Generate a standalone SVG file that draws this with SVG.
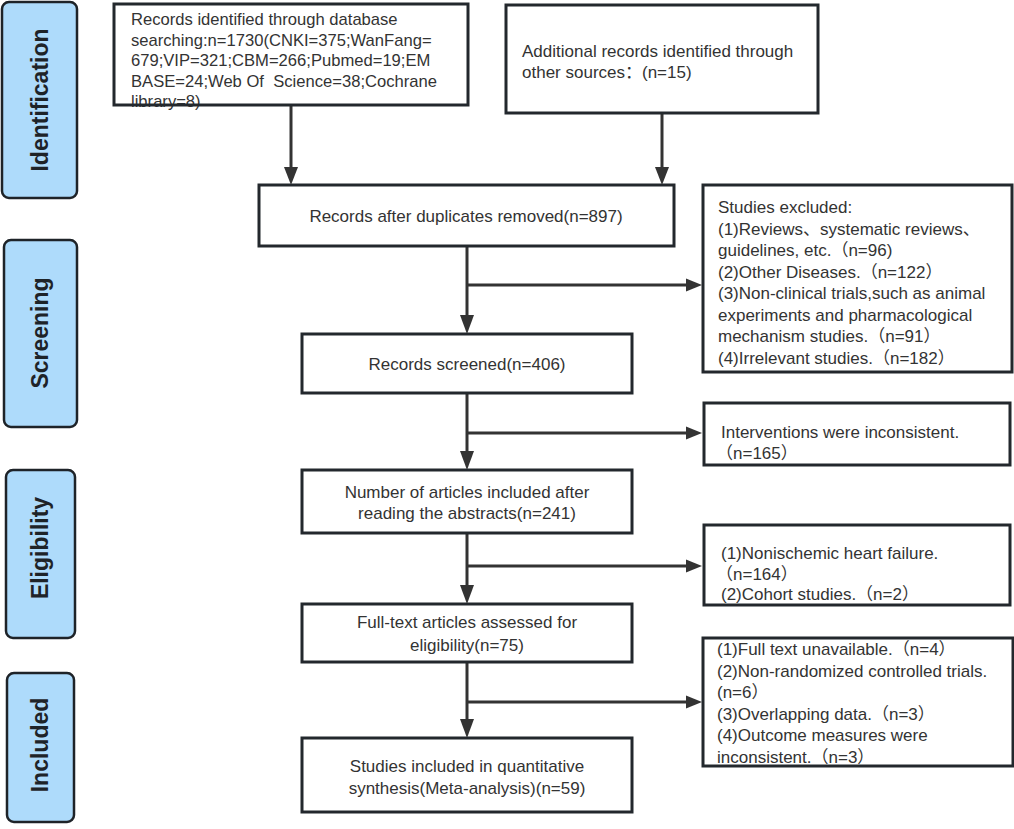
<svg xmlns="http://www.w3.org/2000/svg" width="1014" height="829" viewBox="0 0 1014 829">
<style>
  .stage rect { fill:#aedbfb; stroke:#1e2328; stroke-width:2.5; }
  .stage text { font-family:"Liberation Sans",Arial,sans-serif; font-weight:bold; font-size:23px; fill:#1e2328; text-anchor:middle; }
  .box { fill:#ffffff; stroke:#23282d; stroke-width:3; }
  .open { fill:none; }
  .t { font-family:"Liberation Sans",Arial,"Noto Sans CJK SC",sans-serif; font-size:17px; fill:#333333; }
  .s { font-size:16.6px; }
  .c { text-anchor:middle; }
  .conn line { stroke:#333333; stroke-width:3; }
  .ah { fill:#333333; }
</style>
<rect width="1014" height="829" fill="#ffffff"/>

<g id="stage-identification" class="stage">
  <rect x="2" y="2" width="75" height="196" rx="7"/>
  <text transform="translate(48,100) rotate(-90)">Identification</text>
</g>
<g id="stage-screening" class="stage">
  <rect x="4" y="240" width="73" height="187" rx="7"/>
  <text transform="translate(48,333) rotate(-90)">Screening</text>
</g>
<g id="stage-eligibility" class="stage">
  <rect x="6" y="470" width="69" height="168" rx="7"/>
  <text transform="translate(48,548) rotate(-90)">Eligibility</text>
</g>
<g id="stage-included" class="stage">
  <rect x="7" y="673" width="67" height="149" rx="7"/>
  <text transform="translate(48,745) rotate(-90)">Included</text>
</g>

<g id="connectors" class="conn">
  <line x1="291" y1="105" x2="291" y2="170"/>
  <polygon class="ah" points="284,167 298,167 291,185"/>
  <line x1="662" y1="113" x2="662" y2="170"/>
  <polygon class="ah" points="655,167 669,167 662,185"/>

  <line x1="467" y1="246" x2="467" y2="318"/>
  <polygon class="ah" points="460,315 474,315 467,334"/>
  <line x1="467" y1="285" x2="688" y2="285"/>
  <polygon class="ah" points="686,278.5 686,291.5 702,285"/>

  <line x1="467" y1="393" x2="467" y2="454"/>
  <polygon class="ah" points="460,451 474,451 467,470"/>
  <line x1="467" y1="433" x2="688" y2="433"/>
  <polygon class="ah" points="686,426.5 686,439.5 702,433"/>

  <line x1="467" y1="533" x2="467" y2="588"/>
  <polygon class="ah" points="460,585 474,585 467,604"/>
  <line x1="467" y1="566" x2="688" y2="566"/>
  <polygon class="ah" points="686,559.5 686,572.5 702,566"/>

  <line x1="467" y1="662" x2="467" y2="722"/>
  <polygon class="ah" points="460,719 474,719 467,738"/>
  <line x1="467" y1="702" x2="688" y2="702"/>
  <polygon class="ah" points="686,695.5 686,708.5 702,702"/>
</g>

<g id="node-records-db">
  <rect x="114" y="4" width="354" height="101" fill="#ffffff"/>
  <text class="t s" x="131" y="25">Records identified through database</text>
  <text class="t s" x="131" y="45.5">searching:n=1730(CNKI=375;WanFang=</text>
  <text class="t s" x="131" y="66">679;VIP=321;CBM=266;Pubmed=19;EM</text>
  <text class="t s" x="131" y="86.5" xml:space="preserve">BASE=24;Web Of  Science=38;Cochrane</text>
  <text class="t s" x="131" y="107">library=8)</text>
  <rect class="box open" x="114" y="4" width="354" height="101"/>
</g>

<g id="node-records-other">
  <rect class="box" x="506" y="5" width="312" height="108"/>
  <text class="t" x="522" y="57">Additional records identified through</text>
  <text class="t" x="522" y="78">other sources：(n=15)</text>
</g>

<g id="node-after-duplicates">
  <rect class="box" x="259" y="185" width="415" height="61"/>
  <text class="t c" x="466" y="222">Records after duplicates removed(n=897)</text>
</g>

<g id="node-excluded-1">
  <rect class="box" x="703" y="185" width="309" height="187"/>
  <text class="t" x="718" y="213">Studies excluded:</text>
  <text class="t" x="718" y="234.5">(1)Reviews、systematic reviews、</text>
  <text class="t" x="718" y="256">guidelines, etc.（n=96)</text>
  <text class="t" x="718" y="277.5">(2)Other Diseases.（n=122）</text>
  <text class="t" x="718" y="299">(3)Non-clinical trials,such as animal</text>
  <text class="t" x="718" y="320.5">experiments and pharmacological</text>
  <text class="t" x="718" y="342">mechanism studies.（n=91）</text>
  <text class="t" x="718" y="363.5">(4)Irrelevant studies.（n=182）</text>
</g>

<g id="node-screened">
  <rect class="box" x="302" y="334" width="330" height="59"/>
  <text class="t c" x="467" y="370">Records screened(n=406)</text>
</g>

<g id="node-excluded-2">
  <rect class="box" x="704" y="403" width="306" height="62"/>
  <text class="t" x="721" y="438">Interventions were inconsistent.</text>
  <text class="t" x="716" y="459">（n=165）</text>
</g>

<g id="node-abstracts">
  <rect class="box" x="302" y="470" width="330" height="63"/>
  <text class="t c" x="467" y="498">Number of articles included after</text>
  <text class="t c" x="467" y="519">reading the abstracts(n=241)</text>
</g>

<g id="node-excluded-3">
  <rect class="box" x="704" y="525" width="306" height="80"/>
  <text class="t" x="721" y="559">(1)Nonischemic heart failure.</text>
  <text class="t" x="716" y="580">（n=164）</text>
  <text class="t" x="721" y="600">(2)Cohort studies.（n=2）</text>
</g>

<g id="node-fulltext">
  <rect class="box" x="302" y="604" width="330" height="58"/>
  <text class="t c" x="467" y="628">Full-text articles assessed for</text>
  <text class="t c" x="467" y="651">eligibility(n=75)</text>
</g>

<g id="node-excluded-4">
  <rect x="703" y="638" width="310" height="128" fill="#ffffff"/>
  <text class="t" x="717" y="655">(1)Full text unavailable.（n=4）</text>
  <text class="t" x="717" y="677">(2)Non-randomized controlled trials.</text>
  <text class="t" x="717" y="698">(n=6）</text>
  <text class="t" x="717" y="720">(3)Overlapping data.（n=3）</text>
  <text class="t" x="717" y="741">(4)Outcome measures were</text>
  <text class="t" x="717" y="763">inconsistent.（n=3）</text>
  <rect class="box open" x="703" y="638" width="310" height="128"/>
</g>

<g id="node-included">
  <rect class="box" x="302" y="738" width="330" height="74"/>
  <text class="t c" x="467" y="772">Studies included in quantitative</text>
  <text class="t c" x="467" y="794">synthesis(Meta-analysis)(n=59)</text>
</g>
</svg>
